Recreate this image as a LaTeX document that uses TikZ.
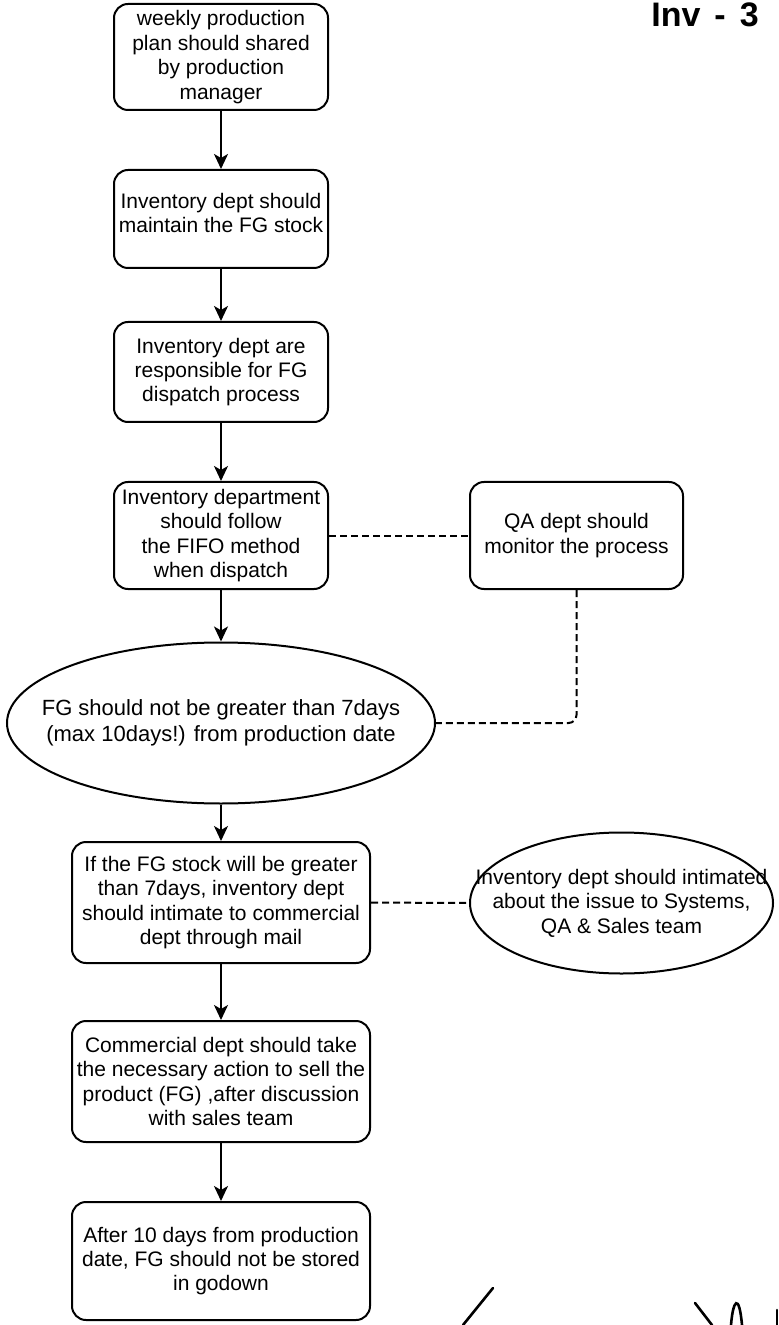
\documentclass[tikz,border=0pt]{standalone}
\usepackage{fontspec}
\setmainfont{Liberation Sans}
\usetikzlibrary{shapes.geometric,arrows.meta}
\newcommand{\boxfont}{\fontsize{10.5}{12.2}\selectfont}
\newcommand{\ovalfont}{\fontsize{11}{13}\selectfont}
\tikzstyle{stepbox}=[draw, line width=1pt, rounded corners=7pt, align=center,
  font=\boxfont, inner sep=1pt]
\tikzstyle{oval}=[draw, ellipse, line width=1pt, inner sep=0pt]
\tikzstyle{ovaltext}=[font=\boxfont, align=center, inner sep=0pt]
\tikzstyle{flow}=[line width=1pt, -{Stealth[length=7.5pt,width=7pt,inset=2pt]}]
\tikzstyle{link}=[line width=1pt, dash pattern=on 3.5pt off 2pt, rounded corners=4pt]
\tikzstyle{pen}=[line width=1.3pt, line cap=round]

\begin{document}
\begin{tikzpicture}[x=0.5pt, y=-0.5pt]
        \useasboundingbox (0,0) rectangle (779,1325);
        \node[stepbox, minimum width=107pt, minimum height=53pt] (plan) at (221,57)
          {weekly production\\plan should shared\\by production\\manager};
        \node[stepbox, minimum width=107pt, minimum height=49pt] (stock) at (221,219)
          {Inventory dept should\\maintain the FG stock\\[-6pt]\mbox{}};
        \node[stepbox, minimum width=107pt, minimum height=50pt] (dispatch) at (221,372)
          {Inventory dept are\\responsible for FG\\dispatch process};
        \node[stepbox, minimum width=107pt, minimum height=53.5pt] (fifo) at (221,535.5)
          {Inventory department\\should follow\\the FIFO method\\when dispatch};
        \node[stepbox, minimum width=106.5pt, minimum height=53.5pt] (qa) at (576.5,535.5)
          {QA dept should\\monitor the process};
        \node[oval, minimum width=214pt, minimum height=80.5pt,
          label={[ovaltext, font=\ovalfont]center:{FG should not be greater than 7days\\(max 10days!) from production date}}]
          (fgage) at (221,723) {};
        \node[stepbox, minimum width=149pt, minimum height=60.5pt] (mail) at (221,902.5)
          {If the FG stock will be greater\\than 7days, inventory dept\\should intimate to commercial\\dept through mail};
        \node[oval, minimum width=151.5pt, minimum height=70.5pt,
          label={[ovaltext]center:{Inventory dept should intimated\\about the issue to Systems,\\QA \& Sales team}}]
          (issue) at (621.5,903) {};
        \node[stepbox, minimum width=149pt, minimum height=60.5pt] (sell) at (221,1081.5)
          {Commercial dept should take\\the necessary action to sell the\\product (FG) ,after discussion\\with sales team};
        \node[stepbox, minimum width=149pt, minimum height=59pt] (godown) at (221,1261)
          {After 10 days from production\\date, FG should not be stored\\in godown};
        % main flow
        \draw[flow] (plan) -- (stock);
        \draw[flow] (stock) -- (dispatch);
        \draw[flow] (dispatch) -- (fifo);
        \draw[flow] (fifo) -- (fgage);
        \draw[flow] (fgage) -- (mail);
        \draw[flow] (mail) -- (sell);
        \draw[flow] (sell) -- (godown);
        % side links
        \draw[link] (fifo) -- (qa);
        \draw[link] (qa.south) |- (fgage.east);
        \draw[link] (mail) -- (issue);
        % handwriting on the scan
        \node[font=\fontsize{17}{17}\selectfont\bfseries, anchor=base] (invno) at (705,27)
          {Inv\hspace{7pt}-\hspace{7pt}3};
        \draw[pen] (493,1288) -- (463,1325);
        \draw[pen] (695,1303) -- (712,1325);
        \draw[pen] (731,1325) .. controls (733,1300) and (739,1292) .. (742,1325);
        \draw[pen] (777,1310) -- (777,1325);
\end{tikzpicture}
\end{document}
